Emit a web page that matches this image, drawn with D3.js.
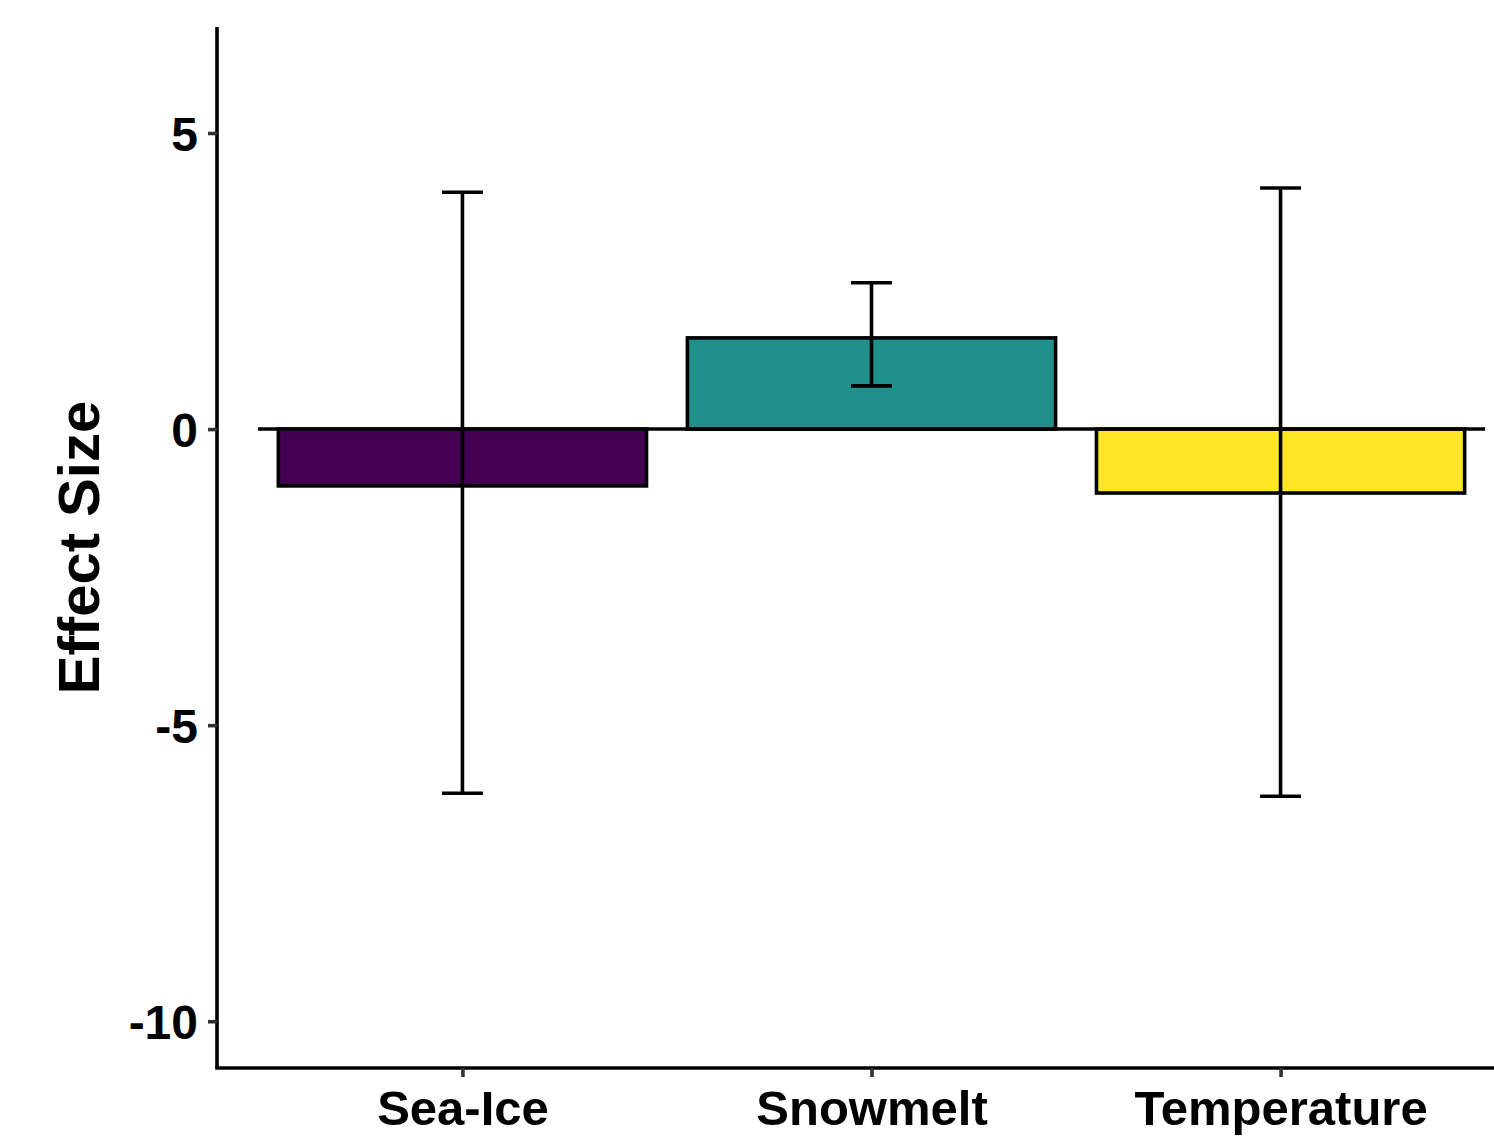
<!DOCTYPE html>
<html>
<head>
<meta charset="utf-8">
<script src="https://cdn.jsdelivr.net/npm/d3@7"></script>
<style>
  html, body { margin: 0; padding: 0; background: #fff; }
  svg { display: block; }
  text { font-family: "Liberation Sans", Arial, sans-serif; font-weight: bold; }
</style>
</head>
<body>
<svg id="chart" width="1494" height="1145"></svg>
<script>
// Data
const categories = ["Sea-Ice", "Snowmelt", "Temperature"];
const effect = [-0.96, 1.54, -1.08];
const errLow = [-6.15, 0.73, -6.2];
const errHigh = [4.0, 2.47, 4.07];
const colors = ["#440154", "#21908C", "#FDE725"];
const yTicks = [-10, -5, 0, 5];

const svg = d3.select("#chart");

const x = d3.scaleLinear().domain([0.4, 3.6]).range([217, 1526]);
const y = d3.scaleLinear().domain([-10.79, 6.79]).range([1068, 27]);

const barW = 0.9, capW = 0.1;
const lw = 3.6;

// bars
svg.append("g").selectAll("rect").data(categories).join("rect")
  .attr("x", (d, i) => x(i + 1 - barW / 2))
  .attr("width", (d, i) => x(i + 1 + barW / 2) - x(i + 1 - barW / 2))
  .attr("y", (d, i) => y(Math.max(0, effect[i])))
  .attr("height", (d, i) => Math.abs(y(effect[i]) - y(0)))
  .attr("fill", (d, i) => colors[i])
  .attr("stroke", "#000")
  .attr("stroke-width", lw);

// zero line
svg.append("line")
  .attr("x1", x(0.5)).attr("x2", x(3.5))
  .attr("y1", y(0)).attr("y2", y(0))
  .attr("stroke", "#000").attr("stroke-width", lw);

// error bars
const eb = svg.append("g").attr("stroke", "#000").attr("stroke-width", lw);
categories.forEach((c, i) => {
  const cx = x(i + 1);
  eb.append("line").attr("x1", cx).attr("x2", cx).attr("y1", y(errLow[i])).attr("y2", y(errHigh[i]));
  [errLow[i], errHigh[i]].forEach(v => {
    eb.append("line").attr("x1", x(i + 1 - capW / 2)).attr("x2", x(i + 1 + capW / 2))
      .attr("y1", y(v)).attr("y2", y(v));
  });
});

// y axis
const yAxis = svg.append("g").attr("transform", `translate(${x(0.4)},0)`)
  .call(d3.axisLeft(y).tickValues(yTicks).tickSize(9).tickPadding(10).tickFormat(d => String(d)));
yAxis.select(".domain").attr("stroke", "#000").attr("stroke-width", lw)
  .attr("d", `M0,${y.range()[1]}V${y.range()[0]}`);
yAxis.selectAll(".tick line").attr("stroke", "#333").attr("stroke-width", lw);
yAxis.selectAll(".tick text").attr("fill", "#000").style("font-size", "48px")
  .attr("dy", "0.36em");

// x axis
const xAxis = svg.append("g").attr("transform", `translate(0,${y(-10.79)})`)
  .call(d3.axisBottom(x).tickValues([1, 2, 3]).tickSize(9).tickPadding(13)
    .tickFormat(d => categories[d - 1]));
xAxis.select(".domain").attr("stroke", "#000").attr("stroke-width", lw)
  .attr("d", `M${x(0.4) - 1.8},0H${x(3.6)}`);
xAxis.selectAll(".tick line").attr("stroke", "#333").attr("stroke-width", lw);
xAxis.selectAll(".tick text").attr("fill", "#000").style("font-size", "49px")
  .attr("dy", "0.72em");

// y title
svg.append("text")
  .attr("transform", `translate(99,${(y(-10.79) + y(6.79)) / 2}) rotate(-90)`)
  .attr("text-anchor", "middle")
  .style("font-size", "58px")
  .attr("fill", "#000")
  .text("Effect Size");
</script>
</body>
</html>
